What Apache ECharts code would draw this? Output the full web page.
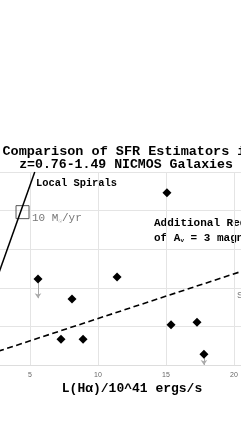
<!DOCTYPE html>
<html><head><meta charset="utf-8">
<script src="https://cdn.jsdelivr.net/npm/echarts@6/dist/echarts.min.js"></script>
<style>html,body{margin:0;padding:0;background:#fff}#c{width:241px;height:429px}</style>
</head><body><div id="c"></div>
<script>
// Data
const galaxyLHa = [5.59, 8.09, 7.28, 8.90, 11.40, 15.07, 15.37, 17.28, 17.79];
const galaxySFR = [22.3, 17.1, 6.7, 6.7, 22.8, 44.6, 10.4, 11.1, 2.8];
const upperLimitIdx = [0, 8];
const upperLimitLen = [5.0, 2.8];
const localSpiralsX = [0.3, 5.35];
const localSpiralsY = [0, 50];
const reddenedX = [0, 25];
const reddenedY = [0.47, 29.4];
const refPointX = [4.45];
const refPointY = [39.6];
const xTicks = [0, 5, 10, 15, 20, 25];

const mono = '"Liberation Mono","Courier New",monospace';
const chart = echarts.init(document.getElementById('c'));
chart.setOption({
  animation: false,
  grid: {left: -38, top: 172, width: 340, height: 193, outerBoundsMode: 'none', containLabel: false},
  xAxis: {
    type: 'value', min: xTicks[0], max: xTicks[xTicks.length-1], interval: 5,
    name: 'L(Hα)/10^41 ergs/s', nameLocation: 'middle', nameGap: 17,
    nameTextStyle: {fontFamily: mono, fontWeight: 'bold', fontSize: 13, color: '#000'},
    axisLine: {lineStyle: {color: '#ddd'}},
    axisTick: {show: false},
    axisLabel: {fontSize: 7, color: '#666', margin: 7, fontFamily: 'Liberation Sans'},
    splitLine: {lineStyle: {color: '#e4e4e4'}}
  },
  yAxis: {
    type: 'value', min: 0, max: 50, interval: 10,
    axisLine: {show: false}, axisTick: {show: false}, axisLabel: {show: false},
    splitLine: {lineStyle: {color: '#e4e4e4'}}
  },
  series: [
    {type: 'line', data: localSpiralsX.map((x,i)=>[x, localSpiralsY[i]]), symbol: 'none',
     lineStyle: {color: '#000', width: 1.5}, clip: true},
    {type: 'line', data: reddenedX.map((x,i)=>[x, reddenedY[i]]), symbol: 'none',
     lineStyle: {color: '#000', width: 1.6, type: [6, 3.5]}, clip: true},
    {type: 'lines', coordinateSystem: 'cartesian2d',
     data: upperLimitIdx.map((k,i)=>({coords: [[galaxyLHa[k], galaxySFR[k]], [galaxyLHa[k], galaxySFR[k]-upperLimitLen[i]]]})),
     symbol: ['none', 'arrow'], symbolSize: 5,
     lineStyle: {color: '#aaa', width: 1, opacity: 1}},
    {type: 'scatter', data: galaxyLHa.map((x,i)=>[x, galaxySFR[i]]), symbol: 'diamond', symbolSize: 9,
     itemStyle: {color: '#000', opacity: 1}},
    {type: 'scatter', data: refPointX.map((x,i)=>[x, refPointY[i]]), symbol: 'rect', symbolSize: 13,
     itemStyle: {color: 'rgba(0,0,0,0)', borderColor: '#555', borderWidth: 1, opacity: 1}}
  ],
  graphic: [
    {type: 'text', x: 128, y: 152, style: {text: 'Comparison of SFR Estimators in', align: 'center', verticalAlign: 'middle', font: 'bold 13.5px ' + mono, fill: '#000'}},
    {type: 'text', x: 126, y: 164.5, style: {text: 'z=0.76-1.49 NICMOS Galaxies', align: 'center', verticalAlign: 'middle', font: 'bold 13.2px ' + mono, fill: '#000'}},
    {type: 'text', x: 36, y: 183, style: {text: 'Local Spirals', verticalAlign: 'middle', font: 'bold 10.4px ' + mono, fill: '#000'}},
    {type: 'text', x: 32, y: 218, style: {text: '{a|10 M}{s|☉}{a|/yr}', verticalAlign: 'middle',
      rich: {a: {fontFamily: mono, fontSize: 11, fill: '#777', color: '#777'}, s: {fontFamily: mono, fontSize: 6, color: '#777', fill: '#777', padding: [6,0,0,0]}}}},
    {type: 'text', x: 154, y: 223, style: {text: 'Additional Reddening', verticalAlign: 'middle', font: 'bold 11px ' + mono, fill: '#000'}},
    {type: 'text', x: 154, y: 238, style: {text: '{a|of A}{s|v}{a| = 3 magnitudes}', verticalAlign: 'middle',
      rich: {a: {fontFamily: mono, fontWeight: 'bold', fontSize: 11, color: '#000'}, s: {fontFamily: mono, fontWeight: 'bold', fontSize: 6, color: '#000', padding: [5,0,0,0]}}}},
    {type: 'text', x: 237, y: 296, style: {text: 'SFR', verticalAlign: 'middle', font: '9px Liberation Sans', fill: '#777'}}
  ]
});
</script></body></html>
